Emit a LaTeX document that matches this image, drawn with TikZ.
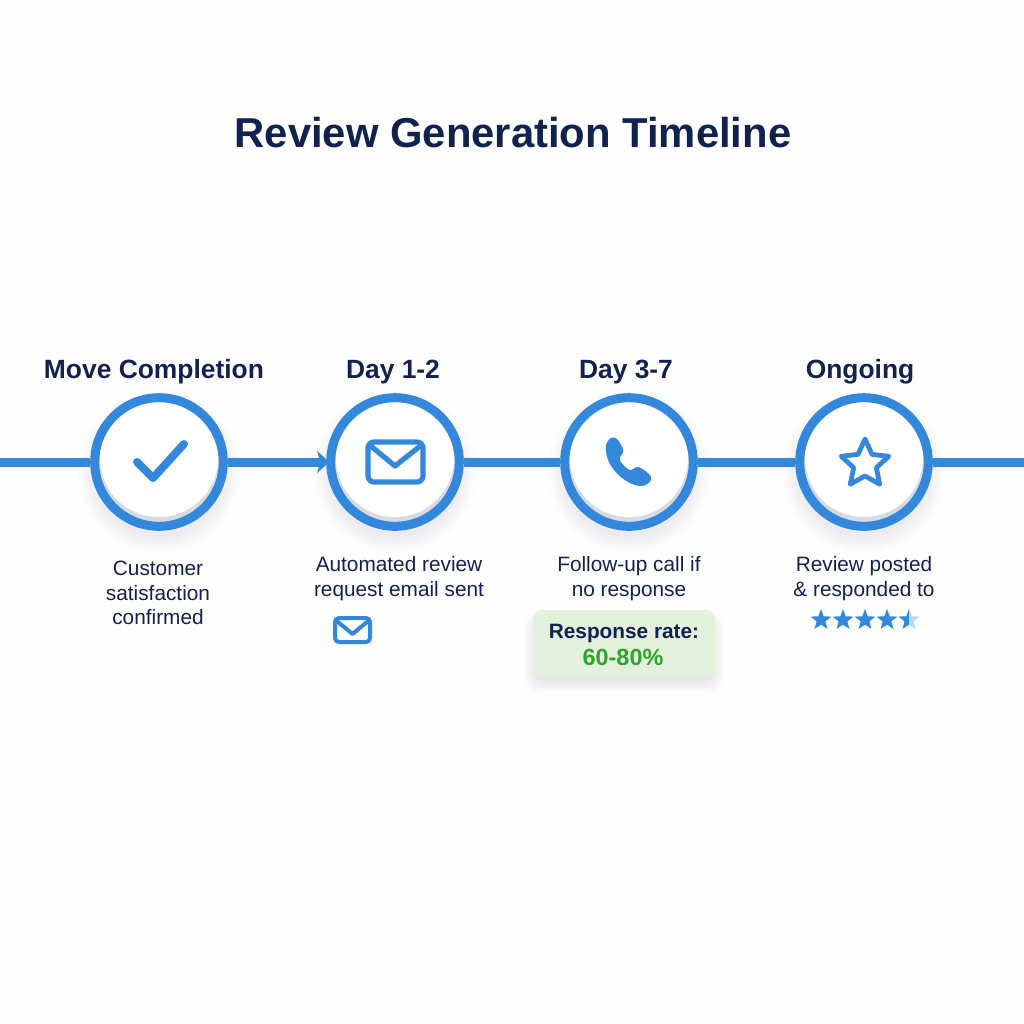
\documentclass[tikz,border=0pt]{standalone}
\usepackage{fontspec}
\setmainfont{Liberation Sans}
\usetikzlibrary{arrows.meta,shapes.geometric}
\definecolor{ringblue}{HTML}{3388DC}
\definecolor{navy}{HTML}{12224F}
\definecolor{rimgray}{HTML}{D8DBE1}
\definecolor{boxgreen}{HTML}{E2F0DC}
\definecolor{rategreen}{HTML}{2FA52C}
\definecolor{palestar}{HTML}{B5D8F3}
\definecolor{paper}{HTML}{FEFEFE}
\begin{document}
\begin{tikzpicture}[
    x=0.5pt, y=-0.5pt,
    ring/.style={circle,draw=ringblue,fill=rimgray,line width=4.5pt,inner sep=0pt,minimum size=64.3pt,path picture={
      \fill [white] ([yshift=2pt]path picture bounding box.center) circle (29.5pt);}},
    heading/.style={text=navy,font=\fontsize{13.2}{16}\selectfont\bfseries},
    desc/.style={text=navy,align=center,font=\fontsize{10.4}{12.4}\selectfont},
    link/.style={draw=ringblue,line width=4.5pt},
    icon/.style={draw=ringblue,line width=2.6pt,line cap=round,line join=round},
    smallstar/.style={star,star points=5,star point ratio=2.4,fill=ringblue,inner sep=0pt,minimum size=11pt}
    ]
    \useasboundingbox (0, 0) rectangle (1024, 1024);
    \fill [paper] (0, 0) rectangle (1024, 1024);

    \node (title) at (513, 133) [text=navy,font=\fontsize{20.9}{24}\selectfont\bfseries] {Review Generation Timeline};

    % soft shadows under the rings and the box
    \foreach \cx in {159, 395, 629, 864} {
      \foreach \rr in {66, 69, 72, 75, 78, 81} {
        \fill [navy, opacity=0.012] (\cx, 472) circle (\rr);
      }
    }
    \foreach \gg in {-2, 0, 2, 4, 6, 8} {
      \fill [navy, opacity=0.014, rounded corners=6pt] (533-\gg, 620-\gg) rectangle (715+\gg, 684+\gg);
    }

    \coordinate (start) at (0, 462);
    \coordinate (end) at (1024, 462);

    \node (check) at (159, 462) [ring] {};
    \node (mail) at (395, 462) [ring] {};
    \node (phone) at (629, 462) [ring] {};
    \node (review) at (864, 462) [ring] {};

    \draw [link] (start) to (check);
    \draw [link, shorten >=-1.5pt, -{Stealth[length=6pt,width=11pt,inset=1.5pt]}] (check) to (mail);
    \draw [link] (mail) to (phone);
    \draw [link] (phone) to (review);
    \draw [link] (review) to (end);

    % icons
    \draw [icon, line width=4pt] (137, 462) -- (153, 478) -- (184, 444);
    \draw [icon, rounded corners=3pt] (368, 442) rectangle (423, 482);
    \draw [icon] (372, 447) -- (395, 466) -- (419, 447);
    \fill [ringblue, rounded corners=1.5pt] (606, 452) .. controls (605, 444) and (609, 438) .. (615, 437)
      .. controls (619, 441) and (622, 446) .. (624, 452) -- (619, 458)
      .. controls (621, 463) and (626, 468) .. (631, 471) -- (637, 466)
      .. controls (643, 469) and (648, 473) .. (652, 477)
      .. controls (650, 483) and (645, 486) .. (638, 486)
      .. controls (622, 481) and (609, 468) .. (606, 452) -- cycle;
    \node (bigstar) at (865, 464) [star,star points=5,star point ratio=2.1,draw=ringblue,line width=2.4pt,line join=round,inner sep=0pt,minimum size=25pt] {};

    \node (h1) at (154, 372) [heading] {Move Completion};
    \node (h2) at (393, 372) [heading] {Day 1-2};
    \node (h3) at (626, 372) [heading] {Day 3-7};
    \node (h4) at (860, 372) [heading] {Ongoing};

    \node (d1) at (158, 593) [desc] {Customer\\satisfaction\\confirmed};
    \node (d2) at (399, 579) [desc] {Automated review\\request email sent};
    \node (d3) at (629, 579) [desc] {Follow-up call if\\no response};
    \node (d4) at (864, 579) [desc] {Review posted\\\& responded to};

    \draw [icon, line width=2pt, rounded corners=2pt] (335, 618) rectangle (370, 642);
    \draw [icon, line width=2pt] (338, 622) -- (352.5, 634) -- (367, 622);

    \node (s1) at (821, 620) [smallstar] {};
    \node (s2) at (843, 620) [smallstar] {};
    \node (s3) at (865, 620) [smallstar] {};
    \node (s4) at (887, 620) [smallstar] {};
    \node (s5) at (909, 620) [smallstar,fill=palestar,path picture={
      \fill [ringblue] (path picture bounding box.south west) rectangle (path picture bounding box.north);}] {};

    \node (ratebox) at (624, 643.5) [fill=boxgreen,rounded corners=4pt,minimum width=91pt,minimum height=33.5pt,inner sep=0pt] {};
    \node (rate) at (624, 633) [text=navy,font=\fontsize{10.4}{12}\selectfont\bfseries] {Response rate:};
    \node (pct) at (623, 657) [text=rategreen,font=\fontsize{11.7}{13}\selectfont\bfseries] {60-80\%};
  \end{tikzpicture}
\end{document}
